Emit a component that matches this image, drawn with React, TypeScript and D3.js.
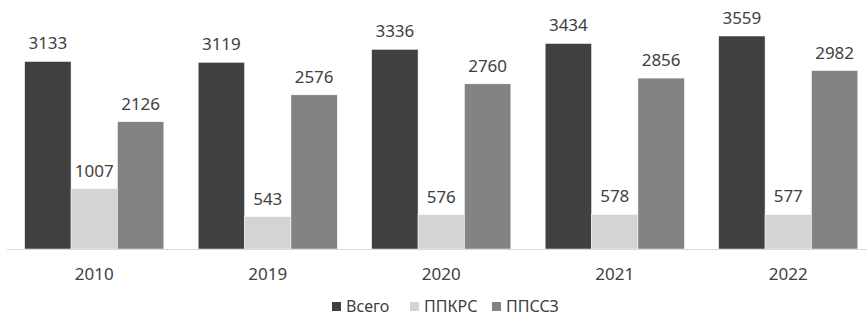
import React, { useEffect, useRef } from "react";
import * as d3 from "d3";

const years = ["2010", "2019", "2020", "2021", "2022"];
const seriesNames = ["Всего", "ППКРС", "ППССЗ"];
const total = [3133, 3119, 3336, 3434, 3559];
const ppkrs = [1007, 543, 576, 578, 577];
const ppssz = [2126, 2576, 2760, 2856, 2982];
const colors = ["#404042", "#d4d4d6", "#838386"];

const App = () => {
  const svgRef = useRef<SVGSVGElement>(null);

  useEffect(() => {
    document.body.style.margin = "0";
    const svg = d3.select(svgRef.current);
    svg.selectAll("*").remove();

    const width = 867;
    const height = 317;
    const baseline = 249;
    const font = "'Noto Sans', 'Open Sans', sans-serif";

    const values = [total, ppkrs, ppssz];
    const rows = years.map((y, i) => ({
      year: y,
      vals: seriesNames.map((s, k) => ({ key: s, value: values[k][i], color: colors[k] })),
    }));

    // scales
    const x0 = d3.scaleBand().domain(years).range([7.5, 875]).padding(0);
    const x1 = d3
      .scaleBand()
      .domain(seriesNames)
      .range([0, x0.bandwidth()])
      .paddingInner(0)
      .paddingOuter(0.37);
    const y = d3.scaleLinear().domain([0, 3559]).range([baseline, 36]);

    const groups = svg
      .selectAll("g.grp")
      .data(rows)
      .enter()
      .append("g")
      .attr("class", "grp")
      .attr("transform", (d) => `translate(${x0(d.year)},0)`);

    groups
      .selectAll("rect")
      .data((d) => d.vals)
      .enter()
      .append("rect")
      .attr("x", (d) => x1(d.key)!)
      .attr("y", (d) => y(d.value))
      .attr("width", x1.bandwidth())
      .attr("height", (d) => y(0) - y(d.value))
      .attr("fill", (d) => d.color)
      .attr("stroke", "#ffffff")
      .attr("stroke-width", 0.5);

    groups
      .selectAll("text.val")
      .data((d) => d.vals)
      .enter()
      .append("text")
      .attr("class", "val")
      .attr("x", (d) => x1(d.key)! + x1.bandwidth() / 2)
      .attr("y", (d) => y(d.value) - 12)
      .attr("text-anchor", "middle")
      .attr("font-family", font)
      .attr("font-size", 17)
      .attr("fill", "#404040")
      .text((d) => d.value);

    // axis line
    svg
      .append("line")
      .attr("x1", 7)
      .attr("x2", width)
      .attr("y1", baseline + 0.5)
      .attr("y2", baseline + 0.5)
      .attr("stroke", "#d9d9d9")
      .attr("stroke-width", 1);

    // category labels
    svg
      .selectAll("text.cat")
      .data(years)
      .enter()
      .append("text")
      .attr("class", "cat")
      .attr("x", (d) => x0(d)! + x0.bandwidth() / 2)
      .attr("y", 280)
      .attr("text-anchor", "middle")
      .attr("font-family", font)
      .attr("font-size", 17)
      .attr("fill", "#404040")
      .text((d) => d);

    // legend
    const legendX = [332, 410, 492];
    const legend = svg
      .selectAll("g.leg")
      .data(seriesNames)
      .enter()
      .append("g")
      .attr("class", "leg")
      .attr("transform", (d, i) => `translate(${legendX[i]},${height - 12})`);
    legend
      .append("rect")
      .attr("x", 0)
      .attr("y", -3)
      .attr("width", 9)
      .attr("height", 9)
      .attr("fill", (d, i) => colors[i]);
    legend
      .append("text")
      .attr("x", 14)
      .attr("y", 6.5)
      .attr("font-family", font)
      .attr("font-size", 16)
      .attr("fill", "#404040")
      .text((d) => d);
  }, []);

  return <svg ref={svgRef} width={867} height={317} style={{ display: "block" }}></svg>;
};

export default App;
